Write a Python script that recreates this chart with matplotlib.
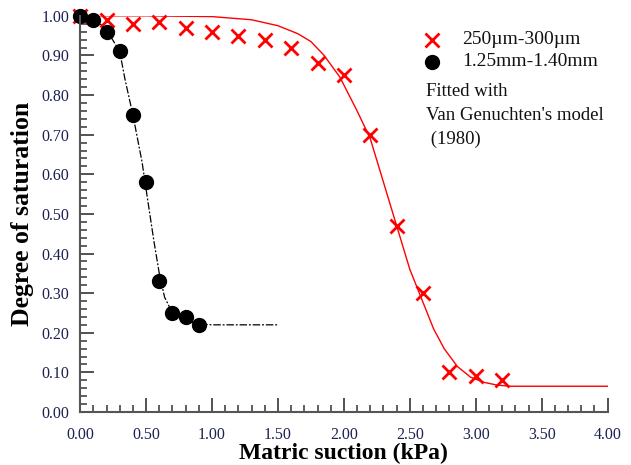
import matplotlib.pyplot as plt
from matplotlib.ticker import MultipleLocator, FormatStrFormatter

# measured points
fine_x = [0.0, 0.2, 0.4, 0.6, 0.8, 1.0, 1.2, 1.4, 1.6, 1.8, 2.0, 2.2, 2.4, 2.6, 2.8, 3.0, 3.2]
fine_y = [1.0, 0.99, 0.98, 0.985, 0.97, 0.96, 0.95, 0.94, 0.92, 0.88, 0.85, 0.70, 0.47, 0.30, 0.10, 0.09, 0.08]

coarse_x = [0.0, 0.1, 0.2, 0.3, 0.4, 0.5, 0.6, 0.7, 0.8, 0.9]
coarse_y = [1.0, 0.99, 0.96, 0.91, 0.75, 0.58, 0.33, 0.25, 0.24, 0.22]

# fitted curves
fit_fine_x = [0.0, 0.5, 1.0, 1.3, 1.5, 1.65, 1.75, 1.85, 1.97, 2.1, 2.2, 2.3, 2.4, 2.5, 2.56, 2.62,
              2.68, 2.76, 2.86, 2.96, 3.06, 3.16, 3.26, 4.0]
fit_fine_y = [1.0, 1.0, 0.998, 0.99, 0.975, 0.955, 0.935, 0.90, 0.845, 0.76, 0.69, 0.58, 0.47, 0.36, 0.31, 0.26,
              0.21, 0.16, 0.115, 0.088, 0.075, 0.068, 0.065, 0.065]

fit_coarse_x = [0.0, 0.1, 0.2, 0.3, 0.34, 0.4, 0.47, 0.51, 0.56, 0.6, 0.64, 0.7, 0.8, 0.9, 1.0, 1.5]
fit_coarse_y = [1.0, 0.995, 0.965, 0.91, 0.84, 0.75, 0.63, 0.54, 0.43, 0.35, 0.29, 0.25, 0.23, 0.222, 0.22, 0.22]

plt.rcParams['font.family'] = ['Liberation Serif', 'DejaVu Serif']
tick_col = '#1c2050'

fig = plt.figure(figsize=(6.31, 4.65), dpi=100)
ax = fig.add_axes([0.127, 0.114, 0.836, 0.852])

ax.plot(fit_fine_x, fit_fine_y, color='red', lw=1.0)
ax.plot(fit_coarse_x, fit_coarse_y, color='black', lw=0.9, dashes=(6, 1.5, 1.5, 1.5))

ax.plot(fine_x, fine_y, 'x', color='red', ms=10, mew=2, clip_on=False)
ax.plot(coarse_x, coarse_y, 'o', color='black', ms=10, clip_on=False)

ax.set_xlim(0, 4)
ax.set_ylim(0, 1)
ax.xaxis.set_major_locator(MultipleLocator(0.5))
ax.xaxis.set_minor_locator(MultipleLocator(0.1))
ax.yaxis.set_major_locator(MultipleLocator(0.1))
ax.yaxis.set_minor_locator(MultipleLocator(0.02))
ax.xaxis.set_major_formatter(FormatStrFormatter('%.2f'))
ax.yaxis.set_major_formatter(FormatStrFormatter('%.2f'))

for s in ['top', 'right']:
    ax.spines[s].set_visible(False)
for s in ['left', 'bottom']:
    ax.spines[s].set_color('#555555')
    ax.spines[s].set_linewidth(1.5)

ax.tick_params(which='major', direction='in', length=10, width=1.3, color='#444444',
               labelsize=11.5, labelcolor=tick_col)
ax.tick_params(axis='x', which='major', pad=11)
ax.tick_params(axis='y', which='major', pad=8)
ax.tick_params(which='minor', direction='in', length=5, width=1.2, color='#444444')

ax.set_xlabel('Matric suction (kPa)', fontsize=17, fontweight='bold', labelpad=0)
ax.set_ylabel('Degree of saturation', fontsize=18.5, fontweight='bold', labelpad=5)

# legend drawn by hand
ax.plot([2.67], [0.939], 'x', color='red', ms=10, mew=2)
ax.plot([2.67], [0.884], 'o', color='black', ms=10)
ax.text(2.9, 0.939, '250µm-300µm', fontsize=14, va='center', color='#111111')
ax.text(2.9, 0.884, '1.25mm-1.40mm', fontsize=14, va='center', color='#111111')
ax.text(2.62, 0.83, "Fitted with\nVan Genuchten's model\n (1980)", fontsize=13.5,
        va='top', ha='left', color='#111111', linespacing=1.5)

fig.savefig('out.png', dpi=100)
